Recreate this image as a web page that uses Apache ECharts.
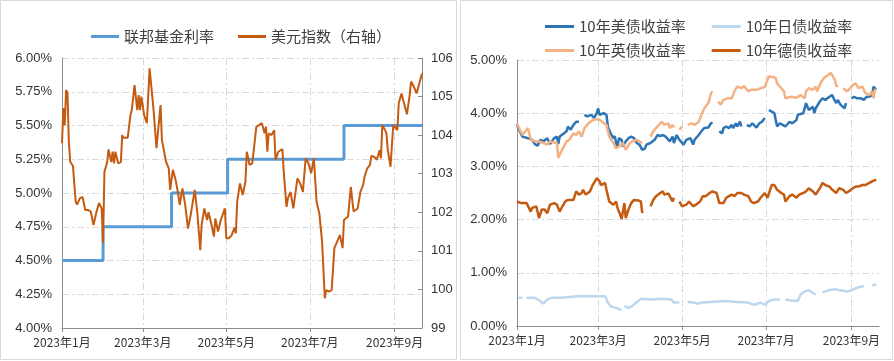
<!DOCTYPE html>
<html><head><meta charset="utf-8">
<script src="https://cdn.jsdelivr.net/npm/echarts@6/dist/echarts.min.js"></script>
<style>html,body{margin:0;padding:0;background:#fff}#c{width:894px;height:361px}</style>
</head><body><div id="c"></div>
<script>
// ---------- data ----------
const monthTicks = ['1-1','3-1','5-1','7-1','9-1'];
const axisStart = '1-1', axisEnd = '9-21';
const leftLegend = ['联邦基金利率','美元指数（右轴）'];
const rightLegendRow1 = ['10年美债收益率','10年日债收益率'];
const rightLegendRow2 = ['10年英债收益率','10年德债收益率'];

// Fed funds upper bound (%), step changes
const fedFunds = [['1-1',4.50],['1-31',4.75],['3-22',5.00],['5-2',5.25],['7-26',5.50],['9-21',5.50]];

// US dollar index (right axis)
const dxy = [['1-1',103.79],['1-2',104.70],['1-3',104.26],['1-4',105.17],['1-5',105.10],['1-6',103.83],['1-7',103.31],['1-9',103.20],['1-11',102.27],['1-12',102.20],['1-14',102.36],['1-16',102.40],['1-18',102.06],['1-20',102.06],['1-22',102.02],['1-24',101.67],['1-26',101.98],['1-28',102.24],['1-30',102.10],['1-31',101.20],['2-1',103.05],['2-3',103.30],['2-4',103.63],['2-6',103.30],['2-7',103.57],['2-8',103.27],['2-9',103.57],['2-11',103.27],['2-13',103.30],['2-14',104.00],['2-15',103.93],['2-18',103.93],['2-20',104.52],['2-21',104.65],['2-23',105.30],['2-25',104.65],['2-26',105.04],['2-27',104.65],['2-28',105.00],['3-2',104.52],['3-4',104.31],['3-6',105.73],['3-9',104.61],['3-11',103.66],['3-12',103.62],['3-14',104.78],['3-15',103.87],['3-18',103.31],['3-20',103.14],['3-21',102.58],['3-23',103.10],['3-25',102.84],['3-27',102.45],['3-28',102.19],['3-30',102.62],['4-1',102.19],['4-3',101.58],['4-5',101.93],['4-8',102.58],['4-10',101.93],['4-12',101.02],['4-13',101.67],['4-15',102.10],['4-17',101.80],['4-18',102.00],['4-20',101.71],['4-22',101.37],['4-23',101.84],['4-25',101.50],['4-27',101.80],['4-30',102.10],['5-1',101.33],['5-3',101.33],['5-5',101.41],['5-7',101.60],['5-8',101.45],['5-9',102.27],['5-11',102.75],['5-13',102.45],['5-15',102.79],['5-16',103.57],['5-18',103.23],['5-20',103.27],['5-23',104.22],['5-25',104.26],['5-27',104.31],['5-29',104.05],['5-30',104.22],['5-31',103.57],['6-1',104.05],['6-3',104.00],['6-5',104.13],['6-6',103.36],['6-8',103.57],['6-11',103.64],['6-12',103.05],['6-14',102.14],['6-15',102.36],['6-17',102.53],['6-19',102.10],['6-22',102.88],['6-24',102.75],['6-26',102.53],['6-28',103.40],['6-30',103.27],['7-2',103.01],['7-4',103.40],['7-6',102.27],['7-8',101.97],['7-10',101.24],['7-12',99.77],['7-13',99.98],['7-15',99.94],['7-17',99.98],['7-19',101.07],['7-21',101.24],['7-23',101.41],['7-25',101.07],['7-26',101.80],['7-27',101.76],['7-29',101.89],['7-31',102.66],['8-2',102.02],['8-5',102.10],['8-7',102.53],['8-9',102.71],['8-10',102.92],['8-12',103.14],['8-14',103.23],['8-15',103.46],['8-17',103.44],['8-19',103.36],['8-21',103.61],['8-22',103.40],['8-23',104.26],['8-25',104.13],['8-26',104.05],['8-27',103.62],['8-29',103.18],['8-31',104.26],['9-1',104.31],['9-3',104.13],['9-4',104.82],['9-6',105.08],['9-7',105.04],['9-10',104.54],['9-12',105.04],['9-13',105.39],['9-15',105.26],['9-17',105.08],['9-19',105.34],['9-21',105.60]];

// 10Y yields (%), '-' = no data
const us10y = [['1-1',3.78],['1-3',3.66],['1-5',3.56],['1-9',3.53],['1-12',3.50],['1-14',3.42],['1-16',3.39],['1-18',3.50],['1-20',3.47],['1-23',3.53],['1-25',3.42],['1-28',3.53],['1-30',3.56],['1-31',3.42],['2-1',3.56],['2-4',3.62],['2-6',3.66],['2-7',3.75],['2-9',3.69],['2-11',3.78],['2-13',3.84],['2-15',3.84],['2-17','-'],['2-19',3.97],['2-21',3.94],['2-24',3.97],['2-26',3.91],['2-28',4.00],['3-1',4.09],['3-2',3.97],['3-5',4.00],['3-7',3.97],['3-8',3.75],['3-10',3.62],['3-12',3.53],['3-13',3.57],['3-14',3.44],['3-15',3.37],['3-16',3.53],['3-18',3.50],['3-19',3.37],['3-21',3.47],['3-23',3.53],['3-25',3.56],['3-27',3.53],['3-29',3.44],['3-31',3.41],['4-2',3.31],['4-4',3.34],['4-5',3.41],['4-8',3.44],['4-11',3.50],['4-13',3.59],['4-15',3.57],['4-17',3.59],['4-19',3.56],['4-22',3.47],['4-24',3.56],['4-25',3.44],['4-27',3.59],['4-29',3.50],['5-2',3.41],['5-4',3.50],['5-7',3.53],['5-9',3.41],['5-10',3.50],['5-13',3.59],['5-15',3.66],['5-17',3.72],['5-20',3.73],['5-21',3.75],['5-22',3.82],['5-23',3.80],['5-25','-'],['5-28',3.66],['5-30',3.62],['5-31',3.72],['6-2',3.75],['6-4',3.72],['6-6',3.78],['6-7',3.72],['6-9',3.81],['6-10',3.75],['6-12',3.84],['6-13',3.75],['6-15','-'],['6-17',3.78],['6-19',3.75],['6-21',3.81],['6-24',3.73],['6-26',3.81],['6-28',3.84],['6-30',3.91],['7-2','-'],['7-3',4.06],['7-5',4.03],['7-7',4.00],['7-8',3.87],['7-9',3.75],['7-11',3.81],['7-13',3.78],['7-15',3.75],['7-18',3.84],['7-20',3.81],['7-23',3.87],['7-24',3.97],['7-25',3.94],['7-28',4.00],['7-30',4.19],['8-1',4.06],['8-2',4.09],['8-4',4.12],['8-5',4.00],['8-6',4.09],['8-9',4.22],['8-11',4.28],['8-13',4.25],['8-16',4.31],['8-18',4.34],['8-19',4.28],['8-21',4.19],['8-22',4.25],['8-24',4.16],['8-27',4.09],['8-28',4.19],['8-30','-'],['9-1',4.28],['9-3',4.31],['9-5',4.28],['9-8',4.28],['9-10',4.25],['9-12',4.31],['9-14',4.31],['9-16',4.34],['9-17',4.50],['9-19',4.44]];

const jp10y = [['1-2',0.53],['1-5',0.53],['1-6','-'],['1-8',0.53],['1-14',0.53],['1-18',0.47],['1-20',0.42],['1-23',0.50],['1-26',0.53],['2-2',0.53],['2-14',0.56],['2-24',0.56],['3-6',0.56],['3-8',0.44],['3-10',0.37],['3-14',0.34],['3-18',0.30],['3-19','-'],['3-20',0.38],['3-23',0.34],['3-26',0.38],['3-30',0.47],['4-1',0.51],['4-8',0.50],['4-16',0.51],['4-23',0.50],['4-25',0.44],['4-29',0.44],['5-2','-'],['5-5',0.45],['5-9',0.44],['5-13',0.42],['5-15',0.44],['5-22',0.45],['6-1',0.47],['6-10',0.45],['6-18',0.44],['6-22',0.40],['6-27',0.44],['6-30',0.40],['7-3',0.47],['7-7',0.50],['7-11',0.50],['7-13','-'],['7-15',0.50],['7-19',0.48],['7-24',0.47],['7-26',0.59],['7-29',0.65],['8-1',0.67],['8-4',0.62],['8-6',0.59],['8-8','-'],['8-11',0.63],['8-15',0.67],['8-20',0.69],['8-24',0.67],['8-29',0.65],['9-1',0.67],['9-5',0.72],['9-10',0.75],['9-13','-'],['9-16',0.76],['9-19',0.78]];

const uk10y = [['1-1',3.81],['1-3',3.69],['1-5',3.59],['1-7',3.66],['1-9',3.72],['1-11',3.50],['1-14',3.47],['1-17',3.47],['1-20',3.44],['1-23',3.41],['1-25',3.47],['1-28',3.45],['1-30',3.44],['1-31',3.16],['2-1',3.22],['2-4',3.37],['2-6',3.47],['2-8',3.50],['2-11',3.62],['2-13',3.59],['2-15',3.66],['2-17',3.56],['2-19',3.72],['2-22',3.81],['2-25',3.87],['3-1',3.89],['3-4',3.84],['3-7',3.78],['3-9',3.56],['3-12',3.44],['3-14',3.34],['3-16',3.37],['3-19',3.44],['3-21',3.31],['3-24',3.44],['3-26',3.47],['3-29',3.50],['3-31',3.47],['4-2',3.44],['4-5','-'],['4-8',3.56],['4-10',3.66],['4-12',3.72],['4-16',3.84],['4-18',3.78],['4-21',3.81],['4-22',3.72],['4-24',3.78],['4-25',3.73],['4-27','-'],['4-29',3.69],['5-1',3.75],['5-3','-'],['5-5',3.78],['5-8',3.81],['5-10',3.78],['5-13',3.84],['5-15',3.97],['5-17',4.09],['5-20',4.19],['5-22',4.38],['5-23',4.41],['5-25','-'],['5-27',4.22],['5-29',4.16],['5-31',4.25],['6-3',4.28],['6-6',4.28],['6-8',4.41],['6-10',4.50],['6-13',4.47],['6-15',4.51],['6-18',4.41],['6-20',4.44],['6-24',4.44],['6-27',4.47],['6-30',4.49],['7-1',4.56],['7-3',4.69],['7-6',4.68],['7-8',4.66],['7-9',4.56],['7-12',4.47],['7-14',4.41],['7-15',4.28],['7-19',4.31],['7-23',4.29],['7-26',4.34],['7-29',4.28],['7-30',4.41],['8-1',4.47],['8-4',4.44],['8-6',4.50],['8-7',4.41],['8-10',4.59],['8-12',4.66],['8-15',4.72],['8-17',4.76],['8-18',4.74],['8-20',4.62],['8-21',4.50],['8-22',4.53],['8-24','-'],['8-26',4.47],['8-29',4.41],['9-2',4.53],['9-4',4.56],['9-6',4.47],['9-9',4.50],['9-11',4.38],['9-14',4.34],['9-16',4.41],['9-17',4.28],['9-18',4.44],['9-19',4.44]];

const de10y = [['1-1',2.34],['1-4',2.31],['1-8',2.31],['1-11',2.15],['1-12',2.22],['1-15',2.25],['1-17',2.03],['1-19',2.19],['1-21',2.19],['1-23',2.12],['1-25',2.28],['1-28',2.31],['1-30',2.28],['2-1',2.15],['2-3',2.25],['2-5',2.34],['2-7',2.37],['2-8',2.34],['2-11',2.37],['2-13',2.53],['2-15',2.47],['2-17',2.50],['2-18',2.56],['2-20',2.47],['2-23',2.53],['2-25',2.65],['2-28',2.78],['3-2',2.72],['3-3',2.65],['3-6',2.69],['3-7',2.56],['3-9',2.34],['3-12',2.28],['3-14',2.34],['3-15',2.22],['3-17',2.09],['3-18',2.01],['3-20',2.31],['3-21',2.03],['3-23',2.19],['3-25',2.31],['3-27',2.37],['3-30',2.36],['4-1',2.34],['4-2',2.12],['4-5','-'],['4-8',2.25],['4-10',2.37],['4-12',2.44],['4-15',2.50],['4-17',2.53],['4-18',2.47],['4-21',2.49],['4-22',2.44],['4-24',2.34],['4-25',2.41],['4-27','-'],['4-29',2.34],['5-1',2.25],['5-4',2.28],['5-6',2.34],['5-9',2.25],['5-11',2.28],['5-14',2.34],['5-16',2.44],['5-18',2.44],['5-21',2.50],['5-23',2.53],['5-26',2.50],['5-28',2.31],['5-31',2.31],['6-2',2.41],['6-4',2.44],['6-6',2.47],['6-8',2.44],['6-10',2.50],['6-13',2.50],['6-15',2.47],['6-18',2.44],['6-20',2.34],['6-22',2.31],['6-25',2.34],['6-27',2.41],['6-30',2.50],['7-2',2.41],['7-5',2.65],['7-7',2.65],['7-9',2.56],['7-12',2.50],['7-14',2.47],['7-15',2.34],['7-18',2.44],['7-20',2.47],['7-23',2.41],['7-25',2.47],['7-28',2.50],['7-30',2.53],['8-1',2.59],['8-4',2.53],['8-6',2.47],['8-9',2.59],['8-11',2.69],['8-13',2.65],['8-16',2.62],['8-18',2.56],['8-21',2.50],['8-23',2.59],['8-26',2.56],['8-28',2.50],['8-30',2.53],['9-2',2.59],['9-4',2.62],['9-6',2.62],['9-9',2.65],['9-11',2.65],['9-14',2.69],['9-16',2.72],['9-19',2.75]];

// ---------- chart ----------
const ts = s => { const p = s.split('-'); return new Date(2023, +p[0] - 1, +p[1]).getTime(); };
const toSeries = arr => arr.map(([d, v]) => [ts(d), v]);
const tickTs = monthTicks.map(ts);
const FONT = '"Liberation Sans", "Noto Sans CJK SC", sans-serif';
const CJK = '"Noto Sans CJK SC", sans-serif';
const gridLine = { show: true, lineStyle: { color: '#d9d9d9', width: 1, type: [7, 3, 2, 3] } };
const axisGray = { show: true, lineStyle: { color: '#8c8c8c', width: 1 } };
const fmtMonth = v => { const d = new Date(v); return d.getFullYear() + '年' + (d.getMonth() + 1) + '月'; };

function dateAxis(gridIndex) {
  return {
    type: 'value', gridIndex, min: ts(axisStart), max: ts(axisEnd), scale: true,
    axisLine: axisGray,
    axisTick: { show: true, customValues: tickTs, length: 4, lineStyle: { color: '#8c8c8c' } },
    axisLabel: { customValues: tickTs, formatter: fmtMonth, color: '#333', fontSize: 12, margin: 8, fontFamily: CJK },
    splitLine: gridLine
  };
}

const chart = echarts.init(document.getElementById('c'), null, { renderer: 'canvas' });
chart.setOption({
  backgroundColor: '#fff',
  animation: false,
  graphic: [
    { type: 'rect', silent: true, z: -10, shape: { x: 0.5, y: 0.5, width: 456, height: 359 }, style: { fill: 'none', stroke: '#d9d9d9', lineWidth: 1 } },
    { type: 'rect', silent: true, z: -10, shape: { x: 460.5, y: 0.5, width: 432, height: 359 }, style: { fill: 'none', stroke: '#d9d9d9', lineWidth: 1 } }
  ],
  legend: [
    { data: leftLegend, left: 86, top: 24, icon: 'rect', itemWidth: 28, itemHeight: 3, itemGap: 24,
      textStyle: { fontSize: 15, color: '#404040', fontFamily: CJK } },
    { data: rightLegendRow1, left: 540, top: 14, icon: 'rect', itemWidth: 29, itemHeight: 3, itemGap: 26,
      textStyle: { fontSize: 15, color: '#404040', fontFamily: CJK } },
    { data: rightLegendRow2, left: 540, top: 38, icon: 'rect', itemWidth: 29, itemHeight: 3, itemGap: 26,
      textStyle: { fontSize: 15, color: '#404040', fontFamily: CJK } }
  ],
  grid: [
    { left: 62, top: 58, width: 360, height: 270 },
    { left: 517, top: 60, width: 362, height: 266 }
  ],
  xAxis: [dateAxis(0), dateAxis(1)],
  yAxis: [
    { type: 'value', gridIndex: 0, min: 4, max: 6, interval: 0.25,
      axisLine: axisGray, axisTick: { show: false },
      axisLabel: { formatter: v => v.toFixed(2) + '%', color: '#333', fontSize: 13, margin: 10, fontFamily: FONT },
      splitLine: gridLine },
    { type: 'value', gridIndex: 0, position: 'right', min: 99, max: 106, interval: 1,
      axisLine: axisGray, axisTick: { show: true, inside: true, length: 4, lineStyle: { color: '#8c8c8c' } },
      axisLabel: { color: '#333', fontSize: 13, margin: 9, fontFamily: FONT },
      splitLine: { show: false } },
    { type: 'value', gridIndex: 1, min: 0, max: 5, interval: 1,
      axisLine: axisGray, axisTick: { show: false },
      axisLabel: { formatter: v => v.toFixed(2) + '%', color: '#333', fontSize: 13, margin: 10, fontFamily: FONT },
      splitLine: gridLine }
  ],
  series: [
    { name: leftLegend[0], type: 'line', xAxisIndex: 0, yAxisIndex: 0, step: 'end', showSymbol: false, symbol: 'none',
      data: toSeries(fedFunds), lineStyle: { color: '#5B9BD5', width: 3 }, itemStyle: { color: '#5B9BD5' } },
    { name: leftLegend[1], type: 'line', xAxisIndex: 0, yAxisIndex: 1, showSymbol: false, symbol: 'none',
      data: toSeries(dxy), lineStyle: { color: '#C55A11', width: 2 }, itemStyle: { color: '#C55A11' } },
    { name: rightLegendRow1[0], type: 'line', xAxisIndex: 1, yAxisIndex: 2, showSymbol: false, symbol: 'none',
      data: toSeries(us10y), lineStyle: { color: '#2E75B6', width: 2.5 }, itemStyle: { color: '#2E75B6' } },
    { name: rightLegendRow1[1], type: 'line', xAxisIndex: 1, yAxisIndex: 2, showSymbol: false, symbol: 'none',
      data: toSeries(jp10y), lineStyle: { color: '#BDD7EE', width: 2.5 }, itemStyle: { color: '#BDD7EE' } },
    { name: rightLegendRow2[0], type: 'line', xAxisIndex: 1, yAxisIndex: 2, showSymbol: false, symbol: 'none',
      data: toSeries(uk10y), lineStyle: { color: '#F4B183', width: 2.5 }, itemStyle: { color: '#F4B183' } },
    { name: rightLegendRow2[1], type: 'line', xAxisIndex: 1, yAxisIndex: 2, showSymbol: false, symbol: 'none',
      data: toSeries(de10y), lineStyle: { color: '#C55A11', width: 2.5 }, itemStyle: { color: '#C55A11' } }
  ]
});
</script></body></html>
